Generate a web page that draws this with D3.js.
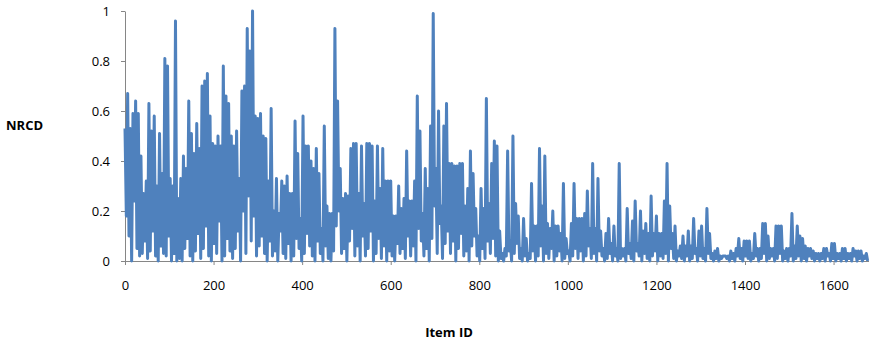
<!DOCTYPE html>
<html>
<head>
<meta charset="utf-8">
<script src="https://cdn.jsdelivr.net/npm/d3@7"></script>
<style>
  body { margin: 0; background: #fff; }
  svg { display: block; }
  text { font-family: "Open Sans", sans-serif; }
</style>
</head>
<body>
<svg id="chart"></svg>
<script>
// values, one sample every 3 items: local peaks and the troughs between them
const itemStep = 3;
const peaks = [
  0.53,0.67,0.53,0.59,0.64,0.59,0.42,0.27,0.32,0.63,
  0.52,0.58,0.30,0.51,0.35,0.81,0.78,0.33,0.30,0.96,
  0.25,0.33,0.42,0.37,0.64,0.51,0.43,0.55,0.45,0.70,
  0.72,0.75,0.58,0.47,0.46,0.50,0.46,0.78,0.66,0.63,
  0.50,0.46,0.52,0.33,0.68,0.70,0.93,0.84,1.00,0.58,
  0.57,0.59,0.50,0.49,0.32,0.61,0.20,0.33,0.19,0.32,
  0.30,0.34,0.27,0.27,0.56,0.43,0.17,0.58,0.46,0.46,
  0.40,0.37,0.45,0.35,0.13,0.54,0.22,0.19,0.19,0.93,
  0.64,0.37,0.25,0.27,0.26,0.45,0.47,0.47,0.27,0.46,
  0.23,0.47,0.47,0.46,0.24,0.46,0.29,0.45,0.32,0.32,
  0.32,0.18,0.18,0.30,0.21,0.25,0.44,0.24,0.24,0.32,
  0.66,0.52,0.19,0.37,0.29,0.54,0.99,0.37,0.60,0.22,
  0.54,0.63,0.39,0.39,0.38,0.38,0.39,0.39,0.22,0.29,
  0.44,0.35,0.21,0.10,0.29,0.21,0.65,0.23,0.39,0.48,
  0.46,0.12,0.03,0.05,0.44,0.08,0.50,0.23,0.18,0.05,
  0.17,0.09,0.03,0.31,0.14,0.14,0.45,0.22,0.42,0.15,
  0.13,0.20,0.14,0.14,0.11,0.31,0.09,0.04,0.15,0.31,
  0.17,0.17,0.17,0.19,0.28,0.13,0.39,0.13,0.33,0.12,
  0.05,0.11,0.17,0.07,0.14,0.05,0.39,0.05,0.05,0.21,
  0.07,0.16,0.24,0.07,0.20,0.12,0.15,0.11,0.26,0.11,
  0.18,0.11,0.11,0.24,0.39,0.22,0.11,0.14,0.04,0.06,
  0.10,0.06,0.12,0.06,0.17,0.05,0.12,0.14,0.05,0.21,
  0.11,0.03,0.04,0.05,0.02,0.02,0.02,0.02,0.04,0.03,
  0.05,0.09,0.05,0.08,0.08,0.08,0.03,0.11,0.05,0.05,
  0.15,0.15,0.10,0.05,0.05,0.14,0.14,0.14,0.04,0.05,
  0.05,0.19,0.06,0.14,0.10,0.09,0.06,0.05,0.05,0.04,
  0.03,0.03,0.03,0.05,0.05,0.03,0.07,0.07,0.03,0.03,
  0.05,0.05,0.03,0.03,0.05,0.04,0.04,0.04,0.02,0.03
];
const troughs = [
  0.18,0.10,0.00,0.24,0.05,0.02,0.03,0.08,0.01,0.04,
  0.12,0.02,0.00,0.06,0.03,0.02,0.10,0.00,0.03,0.00,
  0.01,0.00,0.05,0.09,0.02,0.00,0.04,0.11,0.01,0.05,
  0.14,0.02,0.00,0.07,0.03,0.16,0.00,0.02,0.09,0.04,
  0.01,0.05,0.12,0.00,0.20,0.03,0.26,0.08,0.18,0.02,
  0.06,0.10,0.03,0.00,0.08,0.02,0.04,0.00,0.12,0.03,
  0.01,0.07,0.00,0.02,0.09,0.05,0.00,0.03,0.11,0.06,
  0.02,0.00,0.08,0.03,0.00,0.06,0.01,0.00,0.04,0.14,
  0.20,0.03,0.05,0.00,0.08,0.13,0.02,0.06,0.00,0.10,
  0.02,0.05,0.12,0.00,0.03,0.09,0.01,0.06,0.00,0.04,
  0.02,0.00,0.07,0.03,0.05,0.01,0.10,0.02,0.06,0.00,
  0.13,0.08,0.02,0.05,0.00,0.09,0.22,0.03,0.15,0.01,
  0.07,0.12,0.03,0.08,0.00,0.05,0.11,0.02,0.04,0.00,
  0.06,0.10,0.02,0.00,0.05,0.01,0.08,0.03,0.09,0.02,
  0.00,0.01,0.00,0.02,0.04,0.00,0.03,0.07,0.01,0.00,
  0.02,0.00,0.01,0.04,0.00,0.02,0.06,0.00,0.03,0.01,
  0.05,0.00,0.02,0.04,0.00,0.01,0.03,0.00,0.02,0.05,
  0.01,0.04,0.00,0.02,0.06,0.01,0.03,0.00,0.04,0.02,
  0.00,0.01,0.03,0.00,0.02,0.00,0.01,0.02,0.00,0.03,
  0.01,0.00,0.04,0.02,0.00,0.03,0.01,0.00,0.02,0.04,
  0.00,0.02,0.01,0.03,0.00,0.05,0.01,0.00,0.02,0.01,
  0.00,0.02,0.00,0.01,0.03,0.00,0.02,0.01,0.00,0.03,
  0.01,0.00,0.01,0.00,0.01,0.02,0.01,0.00,0.01,0.00,
  0.02,0.01,0.00,0.02,0.01,0.00,0.01,0.02,0.00,0.01,
  0.03,0.00,0.01,0.02,0.00,0.01,0.03,0.00,0.01,0.00,
  0.02,0.00,0.01,0.02,0.00,0.01,0.00,0.02,0.01,0.00,
  0.01,0.00,0.01,0.00,0.02,0.00,0.01,0.00,0.01,0.00,
  0.01,0.00,0.01,0.00,0.02,0.00,0.01,0.00,0.01,0.00
];
const xTicks = [0, 200, 400, 600, 800, 1000, 1200, 1400, 1600];
const yTicks = [0, 0.2, 0.4, 0.6, 0.8, 1];
const xLabel = "Item ID";
const yLabel = "NRCD";

const nrcd = peaks.flatMap((p, i) => [p, troughs[i]]);
const items = nrcd.map((_, i) => i * itemStep);

const width = 869, height = 344;
const axisColor = "#868686";
const lineColor = "#4F81BD";

const svg = d3.select("#chart")
  .attr("width", width)
  .attr("height", height);

const x = d3.scaleLinear().domain([0, 1680]).range([125, 869]);
const y = d3.scaleLinear().domain([0, 1]).range([261, 11]);

const xAxis = svg.append("g")
  .attr("transform", `translate(0,${y(0)})`)
  .call(d3.axisBottom(x).tickValues(xTicks).tickSize(4).tickSizeOuter(0).tickPadding(16).tickFormat(d3.format("d")));

const yAxis = svg.append("g")
  .attr("transform", `translate(${x(0)},0)`)
  .call(d3.axisLeft(y).tickValues(yTicks).tickSize(4).tickSizeOuter(0).tickPadding(11).tickFormat(d => d === 0 || d === 1 ? d : d3.format(".1f")(d)));

[xAxis, yAxis].forEach(g => {
  g.select(".domain").attr("stroke", axisColor).attr("stroke-width", 1);
  g.selectAll(".tick line").attr("stroke", axisColor);
  g.selectAll(".tick text")
    .attr("fill", "#000")
    .style("font-size", "13px")
    .style("font-family", "'Open Sans', sans-serif");
});

const line = d3.line()
  .x((d, i) => x(items[i]))
  .y(d => y(d));

svg.append("path")
  .datum(nrcd)
  .attr("fill", "none")
  .attr("stroke", lineColor)
  .attr("stroke-width", 3)
  .attr("stroke-linejoin", "round")
  .attr("d", line);

svg.append("text")
  .attr("x", 6)
  .attr("y", 130)
  .attr("font-size", 13)
  .attr("font-weight", "bold")
  .text(yLabel);

svg.append("text")
  .attr("x", 449)
  .attr("y", 337)
  .attr("text-anchor", "middle")
  .attr("font-size", 13)
  .attr("font-weight", "bold")
  .text(xLabel);
</script>
</body>
</html>
